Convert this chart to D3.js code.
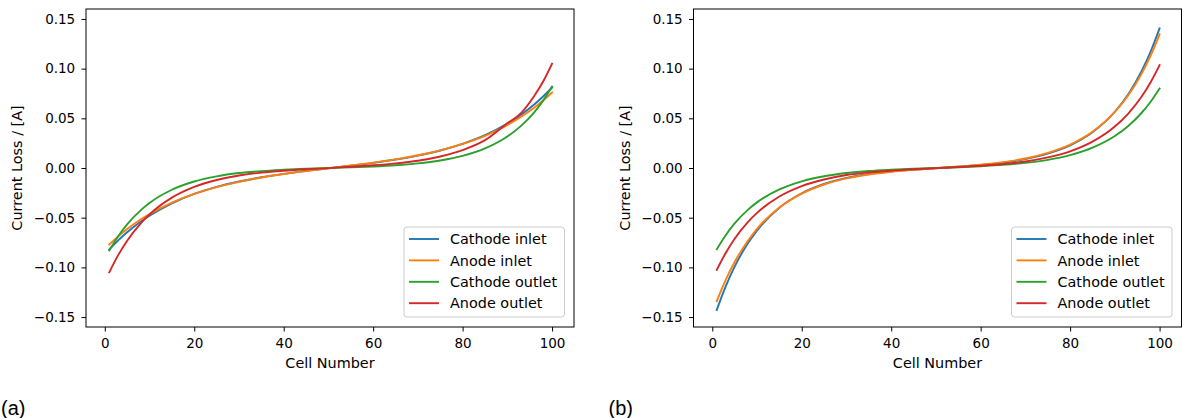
<!DOCTYPE html>
<html>
<head>
<meta charset="utf-8">
<script src="https://cdn.jsdelivr.net/npm/d3@7"></script>
<style>
  body { margin: 0; background: #fff; }
  svg text { font-family: "DejaVu Sans", sans-serif; }
</style>
</head>
<body>
<svg id="fig" width="1182" height="418"></svg>
<script>
// Cell positions along the stack where the current loss is listed
const cells = [1, 3, 5, 8, 10, 15, 20, 25, 30, 35, 40, 45, 50, 55, 60, 65, 70, 75, 80, 85, 90, 93, 96, 98, 100];

// Panel (a) current loss per cell [A]
const aCathodeInlet  = [-0.0820, -0.0728, -0.0647, -0.0541, -0.0480, -0.0355, -0.0261, -0.0190, -0.0136, -0.0093, -0.0059, -0.0029, -0.0003, 0.0024, 0.0052, 0.0085, 0.0125, 0.0176, 0.0243, 0.0330, 0.0447, 0.0534, 0.0639, 0.0719, 0.0810];
const aAnodeInlet    = [-0.0770, -0.0688, -0.0615, -0.0519, -0.0464, -0.0348, -0.0260, -0.0192, -0.0139, -0.0096, -0.0061, -0.0031, -0.0003, 0.0025, 0.0054, 0.0087, 0.0128, 0.0178, 0.0242, 0.0324, 0.0432, 0.0513, 0.0607, 0.0679, 0.0760];
const aCathodeOutlet = [-0.0830, -0.0686, -0.0567, -0.0426, -0.0352, -0.0219, -0.0136, -0.0084, -0.0051, -0.0031, -0.0018, -0.0008, -0.0001, 0.0007, 0.0015, 0.0027, 0.0046, 0.0076, 0.0122, 0.0197, 0.0317, 0.0421, 0.0560, 0.0678, 0.0820];
const aAnodeOutlet   = [-0.1050, -0.0877, -0.0732, -0.0559, -0.0467, -0.0298, -0.0190, -0.0121, -0.0075, -0.0046, -0.0027, -0.0013, -0.0001, 0.0013, 0.0027, 0.0046, 0.0073, 0.0116, 0.0180, 0.0280, 0.0450, 0.0550, 0.0725, 0.0870, 0.1050];

// Panel (b) current loss per cell [A]
const bCathodeInlet  = [-0.1428, -0.1191, -0.0992, -0.0755, -0.0630, -0.0400, -0.0254, -0.0161, -0.0100, -0.0061, -0.0035, -0.0017, -0.0002, 0.0012, 0.0030, 0.0054, 0.0089, 0.0145, 0.0228, 0.0359, 0.0566, 0.0743, 0.0977, 0.1172, 0.1405];
const bAnodeInlet    = [-0.1340, -0.1126, -0.0946, -0.0729, -0.0612, -0.0397, -0.0257, -0.0166, -0.0105, -0.0065, -0.0038, -0.0018, -0.0002, 0.0015, 0.0034, 0.0059, 0.0096, 0.0153, 0.0236, 0.0365, 0.0564, 0.0732, 0.0950, 0.1130, 0.1345];
const bCathodeOutlet = [-0.0817, -0.0676, -0.0558, -0.0419, -0.0346, -0.0216, -0.0134, -0.0083, -0.0051, -0.0030, -0.0017, -0.0007, 0.0000, 0.0008, 0.0018, 0.0031, 0.0052, 0.0082, 0.0130, 0.0205, 0.0322, 0.0423, 0.0556, 0.0667, 0.0800];
const bAnodeOutlet   = [-0.1025, -0.0855, -0.0712, -0.0542, -0.0452, -0.0287, -0.0182, -0.0116, -0.0071, -0.0044, -0.0026, -0.0012, -0.0001, 0.0009, 0.0022, 0.0040, 0.0066, 0.0107, 0.0168, 0.0265, 0.0417, 0.0548, 0.0719, 0.0863, 0.1035];

const seriesNames = ["Cathode inlet", "Anode inlet", "Cathode outlet", "Anode outlet"];
const seriesColors = ["#1f77b4", "#ff7f0e", "#2ca02c", "#d62728"];
const xTicks = [0, 20, 40, 60, 80, 100];
const yTicks = [-0.15, -0.10, -0.05, 0.00, 0.05, 0.10, 0.15];
const xLabel = "Cell Number";
const yLabel = "Current Loss / [A]";

const panels = [
  { tag: "(a)", left: 86, series: [aCathodeInlet, aAnodeInlet, aCathodeOutlet, aAnodeOutlet] },
  { tag: "(b)", left: 693.5, series: [bCathodeInlet, bAnodeInlet, bCathodeOutlet, bAnodeOutlet] }
];

const svg = d3.select("#fig");
svg.append("rect").attr("width", 1182).attr("height", 418).attr("fill", "#fff");

const plotW = 488, plotTop = 9, plotBottom = 327;
const tickFont = 13.5;
const labelFont = 14.4;

panels.forEach(p => {
  const x = d3.scaleLinear().domain([-4.2, 104.9]).range([p.left, p.left + plotW]);
  const y = d3.scaleLinear().domain([-0.16, 0.16]).range([plotBottom, plotTop]);
  const g = svg.append("g");

  // curves
  const line = d3.line()
    .x(d => x(d[0]))
    .y(d => y(d[1]))
    .curve(d3.curveMonotoneX);
  p.series.forEach((vals, i) => {
    g.append("path")
      .datum(cells.map((c, k) => [c, vals[k]]))
      .attr("d", line)
      .attr("fill", "none")
      .attr("stroke", seriesColors[i])
      .attr("stroke-width", 1.9)
      .attr("stroke-linejoin", "round")
      .attr("stroke-linecap", "square");
  });

  // axes
  const xAxis = g.append("g")
    .attr("transform", `translate(0,${plotBottom})`)
    .call(d3.axisBottom(x).tickValues(xTicks).tickSize(4.5).tickPadding(7).tickFormat(d3.format("d")));
  const yAxis = g.append("g")
    .attr("transform", `translate(${p.left},0)`)
    .call(d3.axisLeft(y).tickValues(yTicks).tickSize(4.5).tickPadding(6.3).tickFormat(d3.format(".2f")));
  [xAxis, yAxis].forEach(a => {
    a.select(".domain").remove();
    a.selectAll(".tick line").attr("stroke", "#000").attr("stroke-width", 1);
    a.selectAll(".tick text").attr("fill", "#000").style("font-size", tickFont + "px")
      .style("font-family", "'DejaVu Sans', sans-serif");
  });

  // frame
  g.append("rect")
    .attr("x", p.left).attr("y", plotTop)
    .attr("width", plotW).attr("height", plotBottom - plotTop)
    .attr("fill", "none").attr("stroke", "#000").attr("stroke-width", 1);

  // axis titles
  g.append("text")
    .attr("x", p.left + plotW / 2).attr("y", 367.5)
    .attr("text-anchor", "middle")
    .style("font-size", labelFont + "px")
    .text(xLabel);
  g.append("text")
    .attr("transform", `translate(${p.left - 64},${(plotTop + plotBottom) / 2}) rotate(-90)`)
    .attr("text-anchor", "middle")
    .style("font-size", labelFont + "px")
    .text(yLabel);

  // legend
  const lg = g.append("g").attr("transform", `translate(${p.left + 318},227)`);
  lg.append("rect")
    .attr("width", 160.5).attr("height", 90)
    .attr("rx", 3).attr("ry", 3)
    .attr("fill", "#fff").attr("fill-opacity", 0.8)
    .attr("stroke", "#cccccc").attr("stroke-width", 1);
  seriesNames.forEach((name, i) => {
    const ry = 12 + i * 21.4;
    lg.append("line")
      .attr("x1", 5).attr("x2", 35)
      .attr("y1", ry).attr("y2", ry)
      .attr("stroke", seriesColors[i]).attr("stroke-width", 1.9);
    lg.append("text")
      .attr("x", 46).attr("y", ry + 5.2)
      .style("font-size", labelFont + "px")
      .text(name);
  });

  // panel tag
  svg.append("text")
    .attr("x", p.left - 85).attr("y", 415)
    .style("font-family", "'Liberation Sans', Arial, sans-serif")
    .style("font-size", "20px")
    .text(p.tag);
});
</script>
</body>
</html>
